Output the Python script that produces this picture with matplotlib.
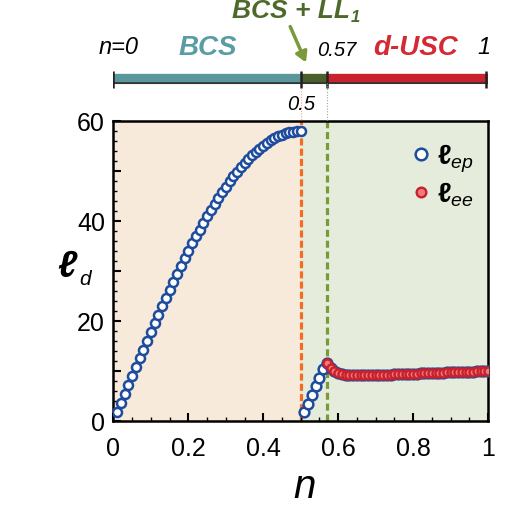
import numpy as np
import matplotlib
matplotlib.use('Agg')
import matplotlib.pyplot as plt
from matplotlib.ticker import MultipleLocator, FuncFormatter

plt.rcParams['font.family'] = ['Liberation Sans', 'DejaVu Sans']
plt.rcParams['mathtext.fontset'] = 'custom'
plt.rcParams['mathtext.rm'] = 'Liberation Sans'
plt.rcParams['mathtext.it'] = 'Liberation Sans:italic'

# --------------------------
# data
# --------------------------
n_grid = np.round(np.arange(1, 101) * 0.01, 2)   # n = 0.01 ... 1.00

# BCS branch, n = 0.01 ... 0.50
l_ep_bcs = [1.7, 3.6, 5.3, 7.1, 8.9, 10.7, 12.5, 14.2, 16.0, 17.7,
            19.5, 21.2, 22.9, 24.5, 26.1, 27.8, 29.4, 30.9, 32.5, 33.9,
            35.5, 36.9, 38.2, 39.5, 40.9, 42.1, 43.3, 44.5, 45.7, 46.8,
            47.9, 48.9, 49.8, 50.7, 51.5, 52.3, 53.1, 53.8, 54.4, 55.0,
            55.5, 56.1, 56.5, 56.9, 57.2, 57.5, 57.7, 57.8, 57.9, 57.9]
# BCS + LL1 branch, n = 0.51 ... 0.56
l_ep_mix = [1.7, 3.3, 5.1, 6.9, 8.6, 10.3]
# d-USC branch, n = 0.57 ... 1.00
l_ee = [11.5, 10.6, 10.0, 9.6, 9.35, 9.2, 9.1, 9.05, 9.05, 9.05,
        9.05, 9.1, 9.1, 9.1, 9.15, 9.15, 9.2, 9.2, 9.25, 9.25,
        9.3, 9.3, 9.35, 9.4, 9.4, 9.45, 9.45, 9.5, 9.55, 9.55,
        9.6, 9.6, 9.65, 9.65, 9.7, 9.7, 9.75, 9.75, 9.8, 9.8,
        9.85, 9.85, 9.9, 9.9]
l_ep = l_ep_bcs + l_ep_mix + l_ee
n_ee = n_grid[56:]

n_c1, n_c2 = 0.5, 0.57
phase_names = ['BCS', 'd-USC']

# --------------------------
# figure / main axes
# --------------------------
W, H = 505, 506
fig = plt.figure(figsize=(W / 100, H / 100), dpi=100)
x0, x1, y_top, y_bot = 113.4, 488.0, 121.7, 421.7
ax = fig.add_axes([x0 / W, 1 - y_bot / H, (x1 - x0) / W, (y_bot - y_top) / H])

ax.axvspan(0, n_c1, color='#f7eadb', lw=0, zorder=0)
ax.axvspan(n_c1, 1, color='#e6ecdb', lw=0, zorder=0)
ax.axvline(n_c1, color='#f36c21', lw=2.3, dashes=(2.2, 1.0), zorder=1)
ax.axvline(n_c2, color='#7a9a3a', lw=2.3, dashes=(2.2, 1.2), zorder=1)

blue = '#1d4c9c'
ax.plot(n_grid[:50], l_ep[:50], 'o', ms=6.5, mfc='white', mec=blue, mew=1.8, zorder=3)
ax.plot(n_grid[50:], l_ep[50:], 'o', ms=7.0, mfc='white', mec=blue, mew=1.8, zorder=3,
        label='ℓ$_{ep}$')
ax.plot(n_ee, l_ee, 'o', ms=5.8, mfc='#ef7b7b', mec='#c8202c', mew=1.7, zorder=4,
        label='ℓ$_{ee}$')

ax.set_xlim(0, 1)
ax.set_ylim(0, 60)
ax.xaxis.set_major_locator(MultipleLocator(0.2))
ax.xaxis.set_minor_locator(MultipleLocator(0.05))
ax.yaxis.set_major_locator(MultipleLocator(10))
ax.yaxis.set_minor_locator(MultipleLocator(2))
ax.xaxis.set_major_formatter(FuncFormatter(lambda v, p: '%g' % round(v, 2)))
ax.yaxis.set_major_formatter(FuncFormatter(lambda v, p: '%d' % v if round(v) % 20 == 0 else ''))
ax.tick_params(which='both', direction='in', top=False, right=False, width=1.5, labelsize=18)
ax.tick_params(which='major', length=6)
ax.tick_params(which='minor', length=3, width=1.0)
ax.tick_params(axis='x', pad=11)
ax.tick_params(axis='y', pad=6)
for s in ax.spines.values():
    s.set_linewidth(1.8)

ax.text(0.511, -0.218, 'n', transform=ax.transAxes, fontsize=29, style='italic',
        ha='center', va='center')
ax.text(-0.125, 0.515, 'ℓ', transform=ax.transAxes, fontsize=27, fontweight='bold',
        style='italic', ha='center', va='center')
ax.text(-0.075, 0.475, 'd', transform=ax.transAxes, fontsize=15, style='italic',
        ha='center', va='center')

leg = ax.legend(loc='upper right', bbox_to_anchor=(1.0, 0.975), frameon=False, fontsize=20,
                handlelength=0.6, handletextpad=0.3, labelspacing=0.2, markerscale=1.2,
                borderaxespad=0.1)
for t in leg.get_texts():
    t.set_fontweight('bold')

# --------------------------
# phase bar on top
# --------------------------
bax = fig.add_axes([x0 / W, 1 - y_top / H, (x1 - x0) / W, y_top / H])
bax.set_xlim(0, 1)
bax.set_ylim(y_top, 0)
bax.axis('off')

bar_y = 79
bax.hlines(84, 0, 1, color='#333333', lw=1.5)
bax.hlines(bar_y, 0, n_c1, color='#5a979c', lw=6)
bax.hlines(bar_y, n_c1, n_c2, color='#4b5f2d', lw=6)
bax.hlines(bar_y, n_c2, 1, color='#c8232d', lw=6)
bax.vlines([0.0, n_c1, n_c2, 0.995], 71.5, 88.5, color='#222222', lw=1.8)
bax.vlines(n_c1, 88.5, y_top, color='#f5a27a', lw=0.8, linestyles=(0, (1, 1.5)))
bax.vlines(n_c2, 84, y_top, color='#9aaa9a', lw=0.8, linestyles=(0, (1, 1.5)))

bax.text(0.015, 48, 'n=0', fontsize=17, style='italic', ha='center', va='center')
bax.text(0.253, 48, phase_names[0], fontsize=20, style='italic', fontweight='bold',
         color='#5a9ca3', ha='center', va='center')
bax.text(0.596, 50, '0.57', fontsize=14.5, style='italic', ha='center', va='center')
bax.text(0.806, 48, phase_names[1], fontsize=20, style='italic', fontweight='bold',
         color='#d42a34', ha='center', va='center')
bax.text(0.99, 48, '1', fontsize=17, style='italic', ha='center', va='center')
bax.text(0.502, 104, '0.5', fontsize=14.5, style='italic', ha='center', va='center')

bax.text(0.632, 11, 'BCS + LL', fontsize=19, style='italic', fontweight='bold',
         color='#4d6a2a', ha='right', va='center')
bax.text(0.634, 18, '1', fontsize=12, style='italic', fontweight='bold',
         color='#4d6a2a', ha='left', va='center')
bax.annotate('', xy=(0.517, 66), xytext=(0.469, 25),
             arrowprops=dict(arrowstyle='-|>,head_length=0.6,head_width=0.35',
                             color='#7a9a3a', lw=2.5))

fig.savefig('out.png', dpi=100)
